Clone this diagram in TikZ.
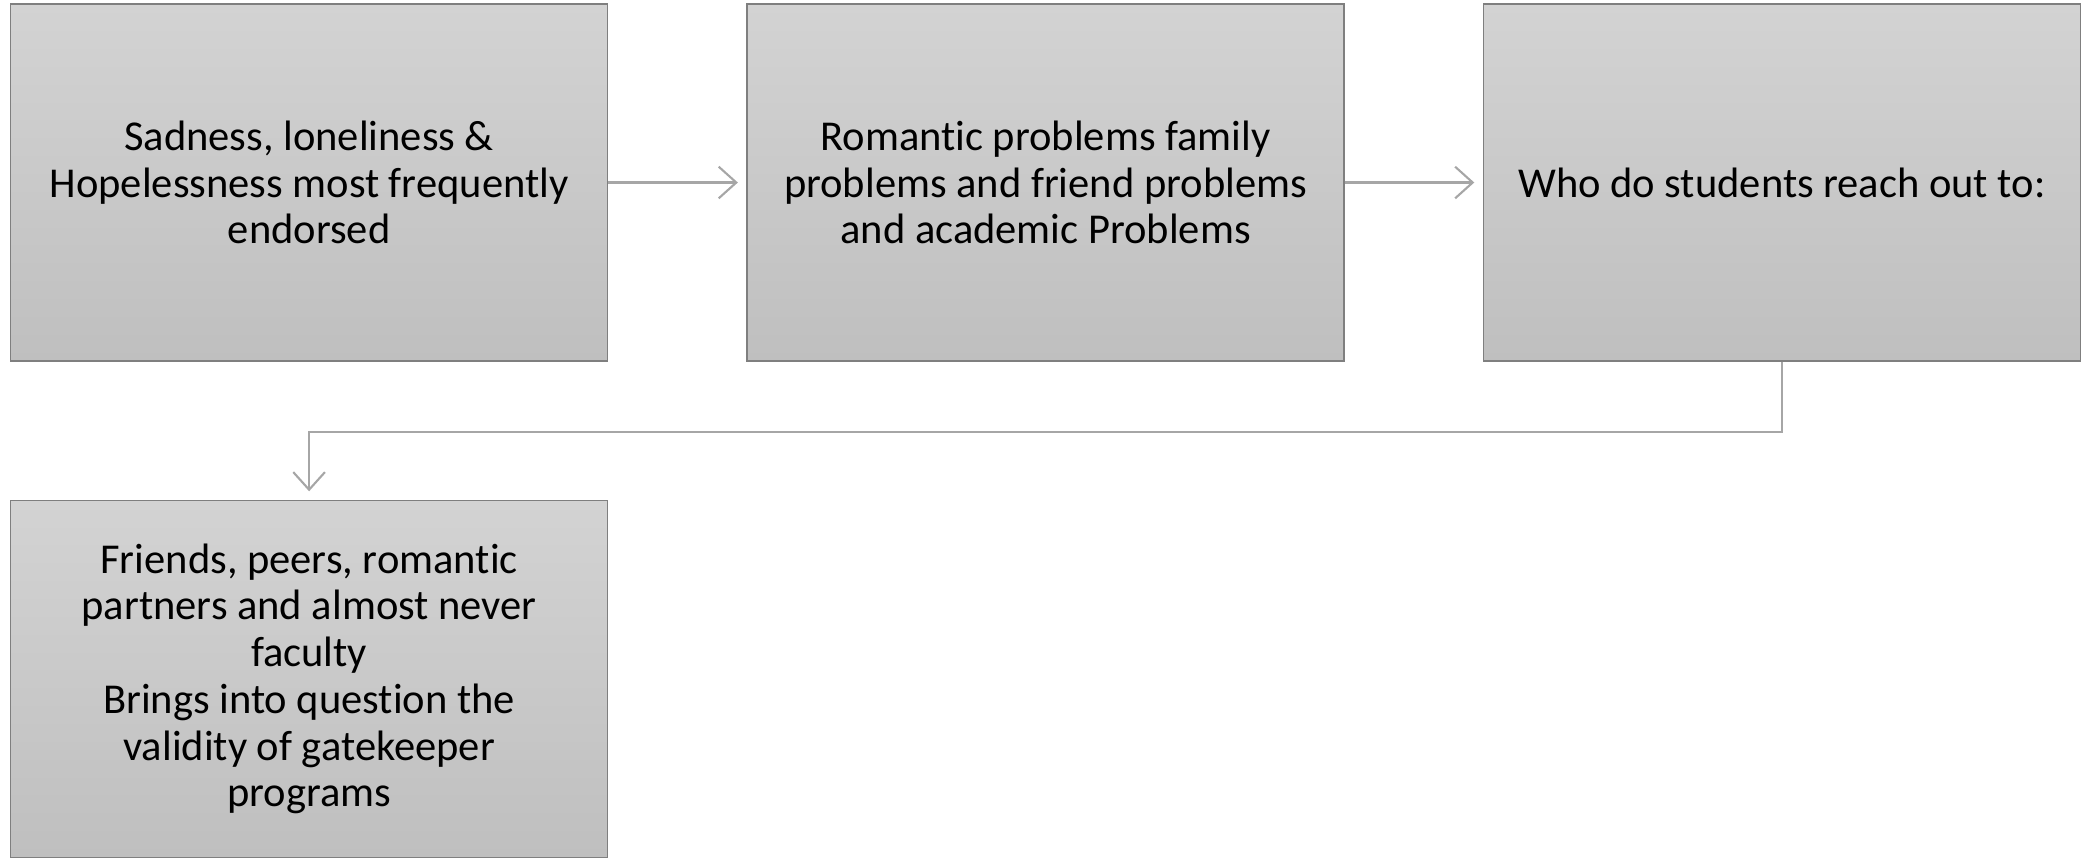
\documentclass[tikz,border=0pt]{standalone}
\usepackage{fontspec}
\setmainfont{Carlito}[Ligatures=NoCommon]
\usetikzlibrary{positioning,arrows.meta}
\definecolor{boxtop}{HTML}{D3D3D3}
\definecolor{boxbot}{HTML}{BFBFBF}
\definecolor{boxline}{HTML}{7F7F7F}
\definecolor{flowline}{HTML}{A6A6A6}

\begin{document}
\begin{tikzpicture}[
  node distance=1.38cm,
  every node/.style={font=\fontsize{12.1}{13.3}\selectfont},
  stage/.style={rectangle,draw=boxline,line width=0.4pt,
    top color=boxtop,bottom color=boxbot,
    minimum width=5.97cm,minimum height=3.57cm,
    align=center,inner sep=0pt},
  flow/.style={-{Straight Barb[length=5pt,width=9pt]},draw=flowline,
    line width=0.6pt,shorten >=2.4pt}
]
\useasboundingbox (0,0) rectangle (20.81,-8.59);

% top row
\node[stage] (sad) at (3.091,-1.825)
  {Sadness, loneliness \&\\Hopelessness most frequently\\endorsed};
\node[stage,right=of sad] (problems)
  {Romantic problems family\\problems and friend problems\\and academic Problems};
\node[stage,right=of problems] (reach)
  {Who do students reach out to:};

% bottom row
\node[stage,below=of sad] (friends)
  {Friends, peers, romantic\\partners and almost never\\faculty\\Brings into question the\\validity of gatekeeper\\programs};

% connectors
\draw[flow] (sad) -- (problems);
\draw[flow] (problems) -- (reach);
\draw[flow] (reach.south) -- ++(0,-0.7) -| (friends.north);
\end{tikzpicture}
\end{document}
